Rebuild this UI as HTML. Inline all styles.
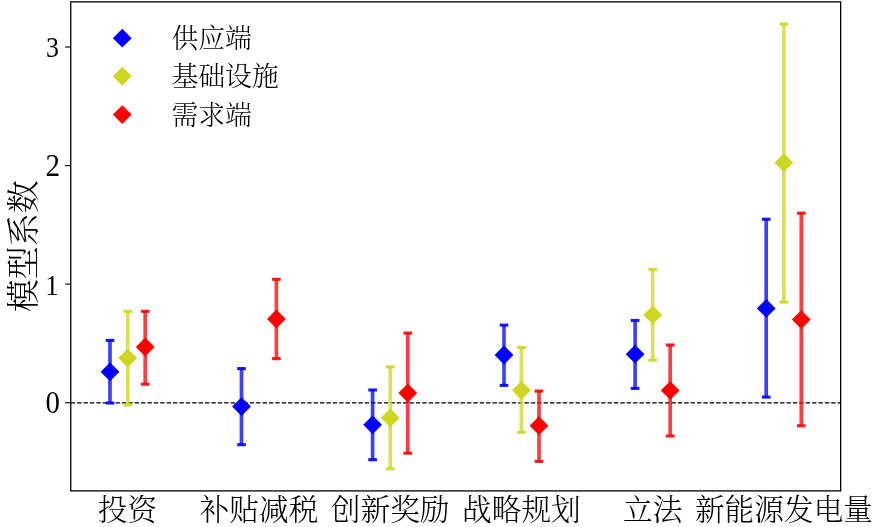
<!DOCTYPE html>
<html lang="zh-CN">
<head>
<meta charset="utf-8">
<title>模型系数</title>
<style>
html,body{margin:0;padding:0;background:#fff;}
body{width:876px;height:527px;overflow:hidden;}
svg{display:block;}
text{font-family:"Liberation Serif","Noto Serif CJK SC",serif;fill:#000;}
.cjk{font-weight:300;}
</style>
</head>
<body>
<svg width="876" height="527" viewBox="0 0 876 527">
<rect x="0" y="0" width="876" height="527" fill="#ffffff"/>

<line x1="70.75" y1="402.8" x2="840.65" y2="402.8" stroke="#000" stroke-width="1.2" stroke-dasharray="4.45 1.94"/>
<g stroke="#0000ff" stroke-opacity="0.75" fill="none"><line x1="110.0" y1="340.4" x2="110.0" y2="403.0" stroke-width="3.7"/></g>
<g stroke="#cdd620" stroke-opacity="0.75" fill="none"><line x1="127.7" y1="311.3" x2="127.7" y2="405.0" stroke-width="3.7"/></g>
<g stroke="#ff0000" stroke-opacity="0.75" fill="none"><line x1="145.2" y1="311.3" x2="145.2" y2="384.2" stroke-width="3.7"/></g>
<g stroke="#0000ff" stroke-opacity="0.75" fill="none"><line x1="241.5" y1="368.6" x2="241.5" y2="444.7" stroke-width="3.7"/></g>
<g stroke="#ff0000" stroke-opacity="0.75" fill="none"><line x1="276.4" y1="279.3" x2="276.4" y2="358.6" stroke-width="3.7"/></g>
<g stroke="#0000ff" stroke-opacity="0.75" fill="none"><line x1="372.6" y1="390.0" x2="372.6" y2="459.7" stroke-width="3.7"/></g>
<g stroke="#cdd620" stroke-opacity="0.75" fill="none"><line x1="390.2" y1="366.8" x2="390.2" y2="468.8" stroke-width="3.7"/></g>
<g stroke="#ff0000" stroke-opacity="0.75" fill="none"><line x1="407.8" y1="333.1" x2="407.8" y2="453.2" stroke-width="3.7"/></g>
<g stroke="#0000ff" stroke-opacity="0.75" fill="none"><line x1="504.0" y1="325.1" x2="504.0" y2="385.4" stroke-width="3.7"/></g>
<g stroke="#cdd620" stroke-opacity="0.75" fill="none"><line x1="521.4" y1="347.4" x2="521.4" y2="432.3" stroke-width="3.7"/></g>
<g stroke="#ff0000" stroke-opacity="0.75" fill="none"><line x1="539.0" y1="391.1" x2="539.0" y2="461.4" stroke-width="3.7"/></g>
<g stroke="#0000ff" stroke-opacity="0.75" fill="none"><line x1="635.1" y1="320.5" x2="635.1" y2="388.4" stroke-width="3.7"/></g>
<g stroke="#cdd620" stroke-opacity="0.75" fill="none"><line x1="652.7" y1="269.6" x2="652.7" y2="360.2" stroke-width="3.7"/></g>
<g stroke="#ff0000" stroke-opacity="0.75" fill="none"><line x1="670.2" y1="345.0" x2="670.2" y2="436.0" stroke-width="3.7"/></g>
<g stroke="#0000ff" stroke-opacity="0.75" fill="none"><line x1="766.2" y1="219.2" x2="766.2" y2="397.1" stroke-width="3.7"/></g>
<g stroke="#cdd620" stroke-opacity="0.75" fill="none"><line x1="783.9" y1="23.9" x2="783.9" y2="302.1" stroke-width="3.7"/></g>
<g stroke="#ff0000" stroke-opacity="0.75" fill="none"><line x1="801.3" y1="213.2" x2="801.3" y2="425.8" stroke-width="3.7"/></g>
<g stroke="#0000ff" stroke-opacity="0.9" stroke-width="3.1"><line x1="105.65" y1="340.4" x2="114.35" y2="340.4"/><line x1="105.65" y1="403.0" x2="114.35" y2="403.0"/></g>
<g stroke="#cdd620" stroke-opacity="0.9" stroke-width="3.1"><line x1="123.35000000000001" y1="311.3" x2="132.05" y2="311.3"/><line x1="123.35000000000001" y1="405.0" x2="132.05" y2="405.0"/></g>
<g stroke="#ff0000" stroke-opacity="0.9" stroke-width="3.1"><line x1="140.85" y1="311.3" x2="149.54999999999998" y2="311.3"/><line x1="140.85" y1="384.2" x2="149.54999999999998" y2="384.2"/></g>
<g stroke="#0000ff" stroke-opacity="0.9" stroke-width="3.1"><line x1="237.15" y1="368.6" x2="245.85" y2="368.6"/><line x1="237.15" y1="444.7" x2="245.85" y2="444.7"/></g>
<g stroke="#ff0000" stroke-opacity="0.9" stroke-width="3.1"><line x1="272.04999999999995" y1="279.3" x2="280.75" y2="279.3"/><line x1="272.04999999999995" y1="358.6" x2="280.75" y2="358.6"/></g>
<g stroke="#0000ff" stroke-opacity="0.9" stroke-width="3.1"><line x1="368.25" y1="390.0" x2="376.95000000000005" y2="390.0"/><line x1="368.25" y1="459.7" x2="376.95000000000005" y2="459.7"/></g>
<g stroke="#cdd620" stroke-opacity="0.9" stroke-width="3.1"><line x1="385.84999999999997" y1="366.8" x2="394.55" y2="366.8"/><line x1="385.84999999999997" y1="468.8" x2="394.55" y2="468.8"/></g>
<g stroke="#ff0000" stroke-opacity="0.9" stroke-width="3.1"><line x1="403.45" y1="333.1" x2="412.15000000000003" y2="333.1"/><line x1="403.45" y1="453.2" x2="412.15000000000003" y2="453.2"/></g>
<g stroke="#0000ff" stroke-opacity="0.9" stroke-width="3.1"><line x1="499.65" y1="325.1" x2="508.35" y2="325.1"/><line x1="499.65" y1="385.4" x2="508.35" y2="385.4"/></g>
<g stroke="#cdd620" stroke-opacity="0.9" stroke-width="3.1"><line x1="517.05" y1="347.4" x2="525.75" y2="347.4"/><line x1="517.05" y1="432.3" x2="525.75" y2="432.3"/></g>
<g stroke="#ff0000" stroke-opacity="0.9" stroke-width="3.1"><line x1="534.65" y1="391.1" x2="543.35" y2="391.1"/><line x1="534.65" y1="461.4" x2="543.35" y2="461.4"/></g>
<g stroke="#0000ff" stroke-opacity="0.9" stroke-width="3.1"><line x1="630.75" y1="320.5" x2="639.45" y2="320.5"/><line x1="630.75" y1="388.4" x2="639.45" y2="388.4"/></g>
<g stroke="#cdd620" stroke-opacity="0.9" stroke-width="3.1"><line x1="648.35" y1="269.6" x2="657.0500000000001" y2="269.6"/><line x1="648.35" y1="360.2" x2="657.0500000000001" y2="360.2"/></g>
<g stroke="#ff0000" stroke-opacity="0.9" stroke-width="3.1"><line x1="665.85" y1="345.0" x2="674.5500000000001" y2="345.0"/><line x1="665.85" y1="436.0" x2="674.5500000000001" y2="436.0"/></g>
<g stroke="#0000ff" stroke-opacity="0.9" stroke-width="3.1"><line x1="761.85" y1="219.2" x2="770.5500000000001" y2="219.2"/><line x1="761.85" y1="397.1" x2="770.5500000000001" y2="397.1"/></g>
<g stroke="#cdd620" stroke-opacity="0.9" stroke-width="3.1"><line x1="779.55" y1="23.9" x2="788.25" y2="23.9"/><line x1="779.55" y1="302.1" x2="788.25" y2="302.1"/></g>
<g stroke="#ff0000" stroke-opacity="0.9" stroke-width="3.1"><line x1="796.9499999999999" y1="213.2" x2="805.65" y2="213.2"/><line x1="796.9499999999999" y1="425.8" x2="805.65" y2="425.8"/></g>
<path d="M100.60 371.80L110.00 362.40L119.40 371.80L110.00 381.20Z" fill="#0000ff"/>
<path d="M118.30 358.10L127.70 348.70L137.10 358.10L127.70 367.50Z" fill="#cdd620"/>
<path d="M135.80 347.00L145.20 337.60L154.60 347.00L145.20 356.40Z" fill="#ff0000"/>
<path d="M232.10 406.60L241.50 397.20L250.90 406.60L241.50 416.00Z" fill="#0000ff"/>
<path d="M267.00 319.00L276.40 309.60L285.80 319.00L276.40 328.40Z" fill="#ff0000"/>
<path d="M363.20 424.80L372.60 415.40L382.00 424.80L372.60 434.20Z" fill="#0000ff"/>
<path d="M380.80 417.80L390.20 408.40L399.60 417.80L390.20 427.20Z" fill="#cdd620"/>
<path d="M398.40 393.00L407.80 383.60L417.20 393.00L407.80 402.40Z" fill="#ff0000"/>
<path d="M494.60 355.00L504.00 345.60L513.40 355.00L504.00 364.40Z" fill="#0000ff"/>
<path d="M512.00 390.30L521.40 380.90L530.80 390.30L521.40 399.70Z" fill="#cdd620"/>
<path d="M529.60 425.70L539.00 416.30L548.40 425.70L539.00 435.10Z" fill="#ff0000"/>
<path d="M625.70 354.20L635.10 344.80L644.50 354.20L635.10 363.60Z" fill="#0000ff"/>
<path d="M643.30 314.90L652.70 305.50L662.10 314.90L652.70 324.30Z" fill="#cdd620"/>
<path d="M660.80 390.40L670.20 381.00L679.60 390.40L670.20 399.80Z" fill="#ff0000"/>
<path d="M756.80 308.40L766.20 299.00L775.60 308.40L766.20 317.80Z" fill="#0000ff"/>
<path d="M774.50 162.70L783.90 153.30L793.30 162.70L783.90 172.10Z" fill="#cdd620"/>
<path d="M791.90 319.60L801.30 310.20L810.70 319.60L801.30 329.00Z" fill="#ff0000"/>
<rect x="70.75" y="1.85" width="769.9" height="489.04999999999995" fill="none" stroke="#000" stroke-width="1.3"/>
<line x1="65.15" y1="47.0" x2="70.75" y2="47.0" stroke="#000" stroke-width="1.15"/>
<text transform="translate(59.0 57.3) scale(0.87 1.0)" font-size="29.7" text-anchor="end">3</text>
<line x1="65.15" y1="165.6" x2="70.75" y2="165.6" stroke="#000" stroke-width="1.15"/>
<text transform="translate(60.0 175.6) scale(0.98 1.04)" font-size="29.7" text-anchor="end">2</text>
<line x1="65.15" y1="284.1" x2="70.75" y2="284.1" stroke="#000" stroke-width="1.15"/>
<text transform="translate(58.5 294.6) scale(0.9 1.02)" font-size="29.7" text-anchor="end">1</text>
<line x1="65.15" y1="402.7" x2="70.75" y2="402.7" stroke="#000" stroke-width="1.15"/>
<text transform="translate(59.9 413.1) scale(0.97 1.06)" font-size="29.7" text-anchor="end">0</text>
<text class="cjk" x="127.4" y="519.6" font-size="29.7" text-anchor="middle">投资</text>
<text class="cjk" x="259.0" y="519.6" font-size="29.7" text-anchor="middle">补贴减税</text>
<text class="cjk" x="390.2" y="519.6" font-size="29.7" text-anchor="middle">创新奖励</text>
<text class="cjk" x="521.4" y="519.6" font-size="29.7" text-anchor="middle">战略规划</text>
<text class="cjk" x="652.7" y="519.6" font-size="29.7" text-anchor="middle">立法</text>
<text class="cjk" x="784.0" y="519.6" font-size="29.7" text-anchor="middle">新能源发电量</text>
<text class="cjk" transform="translate(34.5 246.3) rotate(-90)" font-size="33" text-anchor="middle">模型系数</text>
<path d="M112.90 38.20L122.30 28.80L131.70 38.20L122.30 47.60Z" fill="#0000ff"/>
<text class="cjk" x="171.5" y="47.8" font-size="26.8">供应端</text>
<path d="M112.90 76.20L122.30 66.80L131.70 76.20L122.30 85.60Z" fill="#cdd620"/>
<text class="cjk" x="171.5" y="85.5" font-size="26.8">基础设施</text>
<path d="M112.90 114.60L122.30 105.20L131.70 114.60L122.30 124.00Z" fill="#ff0000"/>
<text class="cjk" x="171.5" y="124.7" font-size="26.8">需求端</text>
</svg>
</body>
</html>
